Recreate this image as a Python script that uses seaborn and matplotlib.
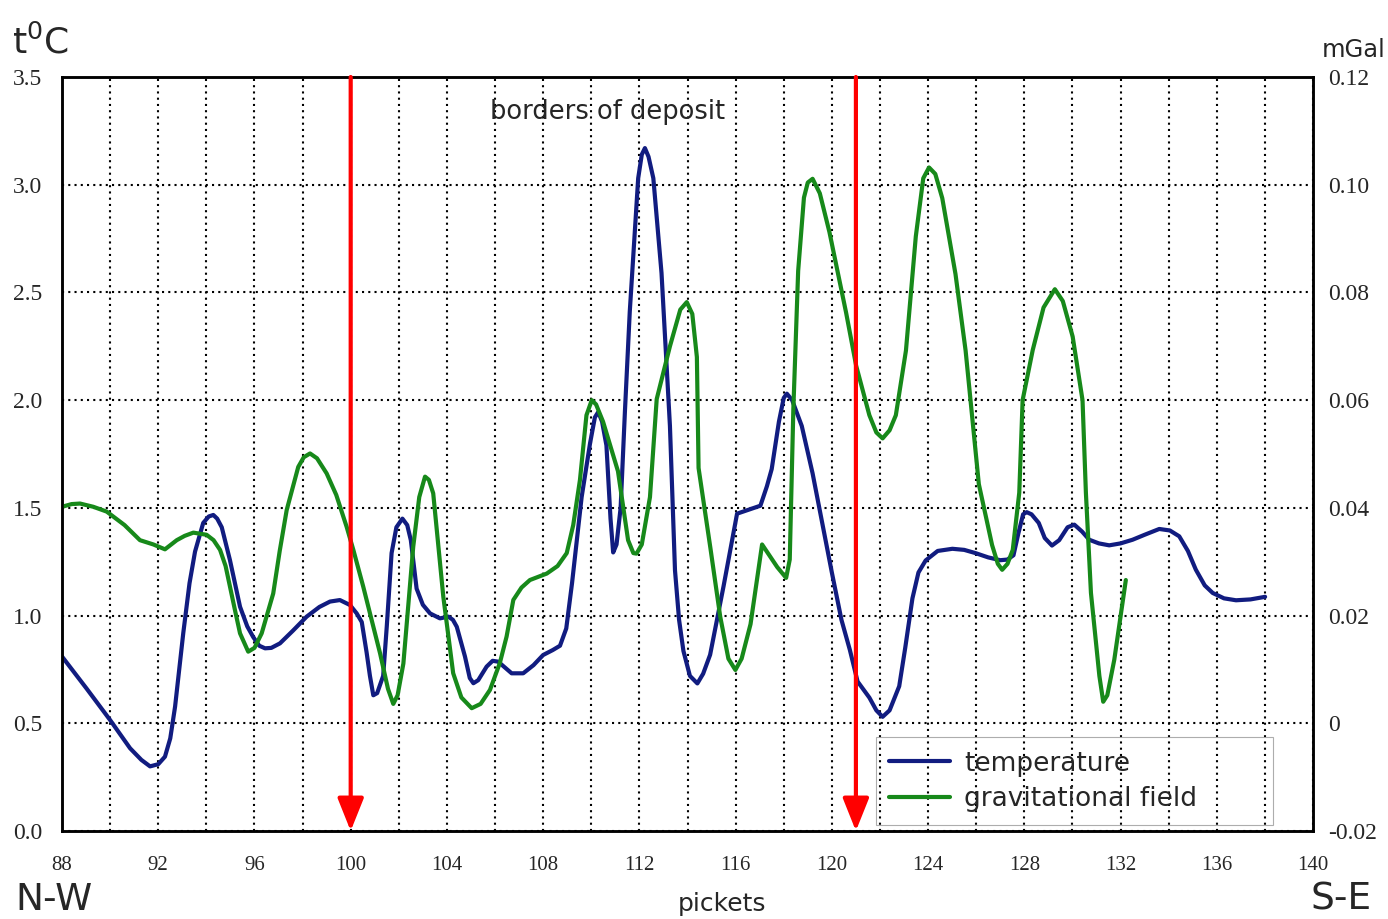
import seaborn as sns
import matplotlib.pyplot as plt
from matplotlib.ticker import MultipleLocator

# --------------------------------------------------
# data (pickets 88 .. 140)
# --------------------------------------------------

# temperature, t deg C (left axis)
temp_pickets = [88.0, 89.03, 90.0, 90.83, 91.3, 91.66, 92.0, 92.28, 92.5, 92.7,
                93.04, 93.3, 93.53, 93.87, 94.1, 94.29, 94.45, 94.64, 94.98, 95.4,
                95.7, 95.95, 96.2, 96.44, 96.7, 97.06, 97.6, 98.17, 98.7, 99.14,
                99.55, 99.97, 100.25, 100.46, 100.66, 100.8, 100.94, 101.1, 101.35, 101.5,
                101.7, 101.9, 102.15, 102.35, 102.5, 102.74, 103.0, 103.3, 103.71, 104.06,
                104.25, 104.41, 104.75, 104.95, 105.1, 105.3, 105.65, 105.9, 106.13, 106.4,
                106.69, 107.17, 107.6, 108.0, 108.4, 108.7, 108.96, 109.2, 109.6, 109.95,
                110.15, 110.29, 110.45, 110.63, 110.8, 110.91, 111.05, 111.22, 111.4, 111.6,
                111.95, 112.1, 112.23, 112.38, 112.58, 112.92, 113.27, 113.48, 113.65, 113.83,
                114.1, 114.41, 114.65, 114.94, 115.5, 116.06, 116.5, 117.03, 117.3, 117.5,
                117.8, 118.0, 118.13, 118.35, 118.75, 119.2, 119.6, 120.0, 120.4, 120.75,
                121.07, 121.56, 121.85, 122.11, 122.4, 122.8, 123.05, 123.35, 123.6, 123.9,
                124.4, 125.01, 125.5, 125.97, 126.5, 127.0, 127.3, 127.55, 127.75, 127.95,
                128.1, 128.3, 128.6, 128.85, 129.15, 129.45, 129.8, 130.08, 130.4, 130.7,
                131.1, 131.53, 132.0, 132.5, 133.0, 133.61, 134.05, 134.44, 134.8, 135.13,
                135.5, 135.83, 136.3, 136.8, 137.4, 138.01]
temp_values = [0.81, 0.66, 0.515, 0.384, 0.33, 0.30, 0.31, 0.345, 0.43, 0.577,
               0.918, 1.15, 1.297, 1.43, 1.46, 1.467, 1.45, 1.41, 1.258, 1.041,
               0.95, 0.90, 0.86, 0.848, 0.85, 0.871, 0.93, 0.995, 1.04, 1.065,
               1.072, 1.049, 1.01, 0.97, 0.83, 0.72, 0.63, 0.64, 0.72, 0.95,
               1.29, 1.41, 1.45, 1.42, 1.35, 1.125, 1.05, 1.01, 0.987, 0.995,
               0.98, 0.948, 0.81, 0.71, 0.686, 0.70, 0.763, 0.79, 0.786, 0.76,
               0.732, 0.732, 0.77, 0.817, 0.84, 0.86, 0.94, 1.15, 1.55, 1.80,
               1.92, 1.945, 1.90, 1.79, 1.45, 1.293, 1.33, 1.50, 1.95, 2.41,
               3.03, 3.14, 3.17, 3.13, 3.03, 2.59, 1.88, 1.21, 0.98, 0.836,
               0.72, 0.685, 0.73, 0.818, 1.137, 1.473, 1.49, 1.51, 1.60, 1.68,
               1.90, 2.01, 2.03, 2.00, 1.88, 1.66, 1.43, 1.20, 0.98, 0.84,
               0.694, 0.619, 0.56, 0.53, 0.56, 0.672, 0.85, 1.08, 1.20, 1.256,
               1.30, 1.31, 1.305, 1.29, 1.27, 1.257, 1.26, 1.28, 1.38, 1.47,
               1.48, 1.47, 1.43, 1.36, 1.325, 1.35, 1.41, 1.422, 1.39, 1.352,
               1.335, 1.326, 1.335, 1.352, 1.375, 1.402, 1.395, 1.368, 1.30, 1.213,
               1.14, 1.105, 1.08, 1.071, 1.075, 1.087]

# gravitational field, mGal (right axis)
grav_pickets = [88.0, 88.4, 88.75, 89.3, 89.86, 90.6, 91.24, 91.8, 92.28, 92.77,
                93.1, 93.46, 94.01, 94.3, 94.57, 94.8, 94.98, 95.2, 95.4, 95.74,
                96.0, 96.3, 96.78, 97.05, 97.34, 97.82, 98.05, 98.31, 98.6, 99.0,
                99.4, 99.83, 100.11, 100.52, 101.22, 101.55, 101.77, 101.95, 102.19, 102.6,
                102.85, 103.09, 103.25, 103.43, 103.85, 104.26, 104.6, 105.03, 105.4, 105.79,
                106.2, 106.48, 106.76, 107.1, 107.45, 108.15, 108.6, 108.98, 109.25, 109.53,
                109.8, 110.02, 110.2, 110.49, 111.11, 111.53, 111.75, 111.88, 112.1, 112.44,
                112.72, 113.27, 113.7, 113.97, 114.2, 114.39, 114.46, 114.95, 115.36, 115.7,
                115.99, 116.25, 116.62, 117.1, 117.73, 118.1, 118.25, 118.4, 118.6, 118.84,
                119.0, 119.2, 119.5, 119.9, 120.59, 121.01, 121.56, 121.85, 122.11, 122.4,
                122.66, 123.08, 123.49, 123.8, 124.04, 124.3, 124.59, 125.14, 125.56, 126.11,
                126.66, 126.9, 127.08, 127.3, 127.52, 127.79, 127.93, 128.35, 128.8, 129.27,
                129.6, 130.01, 130.42, 130.56, 130.77, 131.12, 131.28, 131.45, 131.74, 132.22]
grav_values = [0.0402, 0.0407, 0.0408, 0.0402, 0.0393, 0.0368, 0.0340, 0.0332, 0.0323, 0.0340,
               0.0348, 0.0354, 0.0350, 0.0340, 0.0322, 0.0292, 0.0254, 0.0208, 0.0167, 0.0133,
               0.0140, 0.0167, 0.0241, 0.0320, 0.0396, 0.0476, 0.0494, 0.0501, 0.0492, 0.0464,
               0.0424, 0.0365, 0.0322, 0.0254, 0.0130, 0.0064, 0.0036, 0.0052, 0.0111, 0.0328,
               0.0420, 0.0458, 0.0452, 0.0427, 0.0235, 0.0093, 0.0048, 0.0028, 0.0036, 0.0062,
               0.0112, 0.0161, 0.0229, 0.0252, 0.0266, 0.0278, 0.0292, 0.0316, 0.0368, 0.0452,
               0.0572, 0.0600, 0.0592, 0.0560, 0.0468, 0.0340, 0.0316, 0.0315, 0.0332, 0.0420,
               0.0602, 0.0700, 0.0768, 0.0782, 0.0760, 0.0680, 0.0474, 0.0326, 0.0198, 0.0120,
               0.0099, 0.0120, 0.0184, 0.0332, 0.0290, 0.0270, 0.0304, 0.0584, 0.0840, 0.0976,
               0.1004, 0.1011, 0.0984, 0.0912, 0.0763, 0.0664, 0.0572, 0.0540, 0.0529, 0.0544,
               0.0572, 0.0692, 0.0904, 0.1012, 0.1032, 0.1020, 0.0975, 0.0834, 0.0692, 0.0444,
               0.0331, 0.0296, 0.0285, 0.0296, 0.0322, 0.0428, 0.0600, 0.0693, 0.0772, 0.0806,
               0.0784, 0.0718, 0.0600, 0.0428, 0.0242, 0.0088, 0.0040, 0.0052, 0.0118, 0.0266]

deposit_borders = [100, 121]

x_ticks = list(range(88, 141, 4))
left_ticks = [0.0, 0.5, 1.0, 1.5, 2.0, 2.5, 3.0, 3.5]
left_labels = ['0.0', '0.5', '1.0', '1.5', '2.0', '2.5', '3.0', '3.5']
right_ticks = [-0.02, 0.0, 0.02, 0.04, 0.06, 0.08, 0.10, 0.12]
right_labels = ['-0.02', '0', '0.02', '0.04', '0.06', '0.08', '0.10', '0.12']

BLUE = '#111c80'
GREEN = '#17891a'

sns.set_style("white")
plt.rcParams['font.family'] = ['DejaVu Sans']
plt.rcParams['mathtext.fontset'] = 'dejavusans'

fig = plt.figure(figsize=(13.88, 9.19), dpi=100)
ax = fig.add_axes([62 / 1388, 1 - 831 / 919, 1251 / 1388, 754 / 919])
ax2 = ax.twinx()

# curves
sns.lineplot(x=temp_pickets, y=temp_values, ax=ax, color=BLUE, lw=3,
             estimator=None, sort=False, legend=False, solid_joinstyle='round')
sns.lineplot(x=grav_pickets, y=grav_values, ax=ax2, color=GREEN, lw=3,
             estimator=None, sort=False, legend=False, solid_joinstyle='round')

ax.set_xlim(88, 140)
ax.set_ylim(0, 3.5)
ax2.set_ylim(-0.02, 0.12)

# ticks and labels
ax.set_xticks(x_ticks, [str(t) for t in x_ticks], fontfamily='Liberation Serif', fontsize=15)
ax.xaxis.set_minor_locator(MultipleLocator(2))
ax.set_yticks(left_ticks, left_labels, fontfamily='Liberation Serif', fontsize=17)
ax2.set_yticks(right_ticks, right_labels, fontfamily='Liberation Serif', fontsize=17)
ax.tick_params(axis='both', which='both', length=0)
ax.tick_params(axis='x', pad=18)
ax.tick_params(axis='y', pad=14)
ax2.tick_params(axis='y', length=0, pad=11)
ax.set_xlabel('')
ax.set_ylabel('')
ax2.set_ylabel('')

# dotted grid
ax.set_axisbelow(True)
ax.grid(which='both', axis='x', color='black', linestyle=(0, (1, 2)), lw=1.5)
ax.grid(which='major', axis='y', color='black', linestyle=(0, (1, 2)), lw=1.5)

for a in (ax, ax2):
    for s in a.spines.values():
        s.set_color('black')
        s.set_linewidth(1.8)

# borders of the deposit
for b in deposit_borders:
    ax2.annotate('', xy=(b, -0.02), xytext=(b, 0.12),
                 arrowprops=dict(arrowstyle='-|>,head_length=2.0,head_width=0.8',
                                 color='#ff0000', lw=3, shrinkA=0, shrinkB=0,
                                 mutation_scale=10))

# legend
leg = ax2.legend([ax.lines[0], ax2.lines[0]], ['temperature', 'gravitational field'],
                 loc='lower left', bbox_to_anchor=(0.6507, 0.008, 0.3173, 0.1167),
                 mode='expand', borderaxespad=0, fontsize=19, handlelength=2.3,
                 handletextpad=0.55, labelspacing=0.35, borderpad=0.5,
                 frameon=True, fancybox=False, edgecolor='#999999', facecolor='none')
leg.get_frame().set_linewidth(0.8)

# texts around the plot
fig.text(12 / 1388, 1 - 54 / 919, 't$^0$C', fontsize=26, va='baseline')
fig.text(1386 / 1388, 1 - 57 / 919, 'mGal', fontsize=17.5, ha='right', va='baseline')
fig.text(15 / 1388, 1 - 910 / 919, 'N-W', fontsize=27, va='baseline')
fig.text(1372 / 1388, 1 - 910 / 919, 'S-E', fontsize=27, ha='right', va='baseline')
fig.text(722 / 1388, 1 - 911 / 919, 'pickets', fontsize=18, ha='center', va='baseline')
fig.text(608 / 1388, 1 - 119 / 919, 'borders of deposit', fontsize=18.5,
         ha='center', va='baseline')

fig.savefig('out.png', dpi=100)
